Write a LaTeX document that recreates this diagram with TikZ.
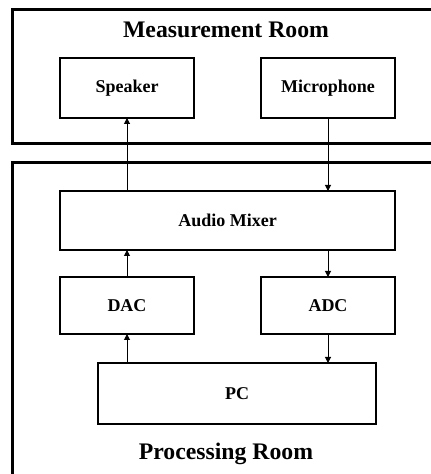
\documentclass[tikz,border=0pt]{standalone}
\usepackage{fontspec}
\setmainfont{Liberation Serif}
\usepackage{tikz}
\usetikzlibrary{arrows.meta}
\tikzset{
  unit/.style={draw,line width=1.5pt,inner sep=0pt,outer sep=0pt,
    font=\fontsize{13.5}{16}\selectfont\bfseries},
  room/.style={line width=2.25pt},
  roomtitle/.style={inner sep=0pt,font=\fontsize{17.8}{20}\selectfont\bfseries},
  sig/.style={line width=0.75pt,-{Triangle[length=4.5pt,width=4.5pt]}}}
\newcommand{\unitbox}[6]{%
  \node[unit,minimum width=#4,minimum height=#5] (#1) at (#2,#3) {#6};}

\begin{document}
\begin{tikzpicture}[x=0.75pt,y=0.75pt]
  \clip (0,0) rectangle (431,474);
  % rooms
  \draw[room] (12,-10) rectangle (445,311);
  \draw[room] (12,330) rectangle (445,464);
  \node[roomtitle] (mroom) at (226,444) {Measurement Room};
  \node[roomtitle] (proom) at (226,20) {Processing Room};
  % units
  \unitbox{speaker}{127}{386}{100.5pt}{45pt}{Speaker}
  \unitbox{mic}{328}{386}{100.5pt}{45pt}{Microphone}
  \unitbox{mixer}{227.5}{253.5}{251.25pt}{44.25pt}{Audio Mixer}
  \unitbox{dac}{127}{168.5}{100.5pt}{42.75pt}{DAC}
  \unitbox{adc}{328}{168.5}{100.5pt}{42.75pt}{ADC}
  \unitbox{pc}{237}{80.5}{208.5pt}{45.75pt}{PC}
  % signals
  \draw[sig] (speaker.south |- mixer.north) -- (speaker.south);
  \draw[sig] (mic.south) -- (mic.south |- mixer.north);
  \draw[sig] (dac.north) -- (dac.north |- mixer.south);
  \draw[sig] (adc.north |- mixer.south) -- (adc.north);
  \draw[sig] (dac.south |- pc.north) -- (dac.south);
  \draw[sig] (adc.south) -- (adc.south |- pc.north);
\end{tikzpicture}
\end{document}
